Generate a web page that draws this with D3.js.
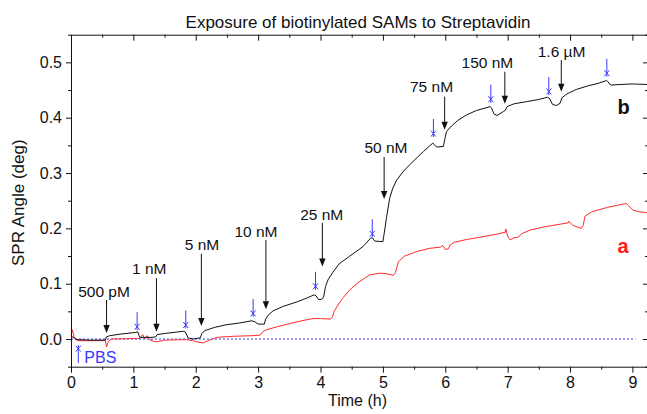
<!DOCTYPE html>
<html><head><meta charset="utf-8">
<script src="https://cdn.jsdelivr.net/npm/d3@7"></script>
<style>body{margin:0;background:#fff}text{font-family:"Liberation Sans",Arial,sans-serif}</style>
</head><body><svg id="c" width="647" height="414"></svg>
<script>
// ---- data ----
const title = "Exposure of biotinylated SAMs to Streptavidin";
const xLabel = "Time (h)";
const yLabel = "SPR Angle (deg)";
const xDomain = [0, 9.25];
const yDomain = [-0.05, 0.55];
const xMajor = [0,1,2,3,4,5,6,7,8,9];
const xMinor = [0.5,1.5,2.5,3.5,4.5,5.5,6.5,7.5,8.5];
const yMajor = [0,0.1,0.2,0.3,0.4,0.5];
const yMinor = [-0.05,0.05,0.15,0.25,0.35,0.45,0.55];

// curve b (black)
const timeB = [0,0.03,0.08,0.3,0.55,0.57,0.62,0.8,1.04,1.07,1.1,1.3,1.36,1.38,1.5,1.8,1.83,1.88,1.95,2.07,2.1,2.14,2.3,2.5,2.7,2.9,2.95,3.0,3.1,3.12,3.16,3.24,3.4,3.62,3.8,3.9,3.93,3.97,4.02,4.05,4.08,4.12,4.2,4.3,4.47,4.68,4.8,4.83,4.87,5.0,5.02,5.06,5.11,5.16,5.22,5.32,5.43,5.55,5.65,5.8,5.82,5.86,5.97,5.99,6.02,6.1,6.2,6.34,6.5,6.72,6.74,6.78,6.83,6.93,6.96,6.99,7.1,7.3,7.5,7.64,7.67,7.72,7.78,7.84,7.87,7.95,8.1,8.3,8.45,8.58,8.6,8.65,8.8,9.0,9.25];
const valB  = [0.003,0.004,-0.001,-0.002,-0.002,0.004,0.006,0.009,0.012,0.013,0.003,0.003,0.004,0.008,0.010,0.014,0.013,0.002,0.000,0.002,0.010,0.015,0.021,0.026,0.029,0.033,0.031,0.027,0.027,0.036,0.043,0.051,0.059,0.067,0.075,0.080,0.078,0.071,0.072,0.076,0.095,0.107,0.121,0.136,0.150,0.167,0.182,0.183,0.177,0.176,0.190,0.221,0.255,0.273,0.287,0.302,0.315,0.328,0.339,0.354,0.352,0.347,0.348,0.360,0.375,0.385,0.395,0.405,0.413,0.420,0.418,0.407,0.404,0.411,0.413,0.420,0.425,0.429,0.433,0.437,0.435,0.424,0.422,0.426,0.436,0.443,0.451,0.458,0.462,0.467,0.466,0.459,0.460,0.461,0.460];

// curve a (red)
const timeA = [0,0.02,0.05,0.1,0.5,0.55,0.57,0.6,0.65,1.05,1.1,1.15,1.18,1.22,1.26,1.32,1.38,1.5,1.85,1.95,2.05,2.12,2.2,2.34,2.6,2.9,3.03,3.08,3.14,3.3,3.51,3.7,3.88,4.0,4.16,4.19,4.22,4.26,4.35,4.47,4.6,4.79,4.95,5.05,5.17,5.2,5.25,5.35,5.54,5.75,5.92,5.96,6.0,6.05,6.08,6.15,6.35,6.55,6.8,6.96,6.97,7.0,7.04,7.1,7.17,7.22,7.36,7.6,7.97,7.98,8.05,8.18,8.21,8.24,8.35,8.6,8.9,9.01,9.1,9.25];
const valA  = [0.005,0.017,0.004,-0.003,-0.003,-0.002,-0.014,-0.004,0.000,0.001,0.001,0.008,0.000,0.006,-0.001,-0.004,-0.005,-0.002,-0.001,-0.003,-0.006,-0.007,-0.003,0.003,0.005,0.006,0.007,0.014,0.017,0.022,0.028,0.033,0.037,0.037,0.036,0.040,0.050,0.058,0.073,0.089,0.102,0.116,0.119,0.118,0.115,0.120,0.140,0.150,0.158,0.164,0.166,0.169,0.162,0.163,0.170,0.175,0.180,0.184,0.189,0.193,0.199,0.186,0.179,0.183,0.184,0.190,0.197,0.203,0.210,0.213,0.205,0.200,0.205,0.222,0.230,0.238,0.245,0.233,0.230,0.228];

// zero baseline (dotted)
const zeroT = [0, 9.05];

// injection annotations (black arrows)
const injLabel = ["500 pM","1 nM","5 nM","10 nM","25 nM","50 nM","75 nM","150 nM","1.6 \u00b5M"];
const injT     = [0.57,1.37,2.09,3.125,4.03,5.02,5.99,6.955,7.86];
const injTipV  = [0.011,0.013,0.0235,0.054,0.131,0.253,0.378,0.425,0.447];
const injTopV  = [0.0705,0.110,0.154,0.179,0.210,0.329,0.438,0.483,0.504];
const injLabT  = [0.53,1.255,2.10,2.965,4.02,5.05,5.78,6.675,7.865];
const injLabV  = [0.0765,0.1175,0.161,0.1845,0.215,0.336,0.447,0.4895,0.5105];

// buffer rinse markers (blue arrows)
const rinseT   = [1.06,1.84,2.92,3.92,4.83,5.81,6.73,7.66,8.59];
const rinseTipV= [0.016,0.019,0.040,0.089,0.184,0.365,0.427,0.441,0.474];
const pbsT = 0.117, pbsTipV = -0.011, pbsLabT = 0.213, pbsLabV = -0.044;

const curveLabels = ["a","b"];
const curveLabT = [8.85, 8.86];
const curveLabV = [0.155, 0.407];

// ---- drawing ----
const svg = d3.select("#c");
const L = 71, T = 34.7, R = 648, B = 366.7;
const x = d3.scaleLinear().domain(xDomain).range([L, R]);
const y = d3.scaleLinear().domain(yDomain).range([B, T]);
const BLUE = "#3a3aff";
const FS = 16;

svg.append("text").attr("x", 358).attr("y", 28).attr("text-anchor","middle")
  .attr("font-size", 17).attr("fill","#111").text(title);

// zero line
svg.append("line").attr("x1", x(zeroT[0])).attr("x2", x(zeroT[1]))
  .attr("y1", y(0)).attr("y2", y(0)).attr("stroke", BLUE).attr("stroke-width",1)
  .attr("stroke-dasharray","2,2");

// curves
const line = d3.line().x(d=>x(d[0])).y(d=>y(d[1]));
svg.append("path").datum(timeA.map((t,i)=>[t,valA[i]])).attr("d", line)
  .attr("fill","none").attr("stroke","#ff2a2a").attr("stroke-width",1);
svg.append("path").datum(timeB.map((t,i)=>[t,valB[i]])).attr("d", line)
  .attr("fill","none").attr("stroke","#111").attr("stroke-width",1);

// axes
function styleAxis(g){ g.select(".domain").attr("stroke","#111"); g.selectAll(".tick line").attr("stroke","#111");
  g.selectAll("text").attr("font-size",FS).attr("fill","#111").attr("font-family",'"Liberation Sans",Arial,sans-serif'); }
const gx = svg.append("g").attr("transform",`translate(0,${B})`)
  .call(d3.axisBottom(x).tickValues(xMajor).tickSize(6).tickSizeOuter(0).tickPadding(4).tickFormat(d3.format("d")));
styleAxis(gx);
svg.append("g").attr("transform",`translate(0,${B})`).call(d3.axisBottom(x).tickValues(xMinor).tickSize(3).tickSizeOuter(0).tickFormat(""))
  .call(g=>{g.select(".domain").remove(); g.selectAll("line").attr("stroke","#111");});
const gy = svg.append("g").attr("transform",`translate(${L},0)`)
  .call(d3.axisLeft(y).tickValues(yMajor).tickSize(5).tickSizeOuter(0).tickPadding(4).tickFormat(d3.format(".1f")));
styleAxis(gy);
svg.append("g").attr("transform",`translate(${L},0)`).call(d3.axisLeft(y).tickValues(yMinor).tickSize(3).tickSizeOuter(0).tickFormat(""))
  .call(g=>{g.select(".domain").remove(); g.selectAll("line").attr("stroke","#111");});
// top & right (inward ticks)
const gt = svg.append("g").attr("transform",`translate(0,${T})`)
  .call(d3.axisTop(x).tickValues(xMajor).tickSize(-6).tickSizeOuter(0).tickFormat(""));
styleAxis(gt);
svg.append("g").attr("transform",`translate(0,${T})`).call(d3.axisTop(x).tickValues(xMinor).tickSize(-3).tickFormat(""))
  .call(g=>{g.select(".domain").remove(); g.selectAll("line").attr("stroke","#111");});
const gr = svg.append("g").attr("transform",`translate(${R},0)`)
  .call(d3.axisRight(y).tickValues(yMajor).tickSize(-5).tickSizeOuter(0).tickFormat(""));
styleAxis(gr);
svg.append("g").attr("transform",`translate(${R},0)`).call(d3.axisRight(y).tickValues(yMinor).tickSize(-3).tickFormat(""))
  .call(g=>{g.select(".domain").remove(); g.selectAll("line").attr("stroke","#111");});

// axis titles
svg.append("text").attr("x", (L+R)/2 - 2).attr("y", 406).attr("text-anchor","middle")
  .attr("font-size",16).attr("fill","#111").text(xLabel);
svg.append("text").attr("transform",`translate(24,${(T+B)/2 + 2})rotate(-90)`).attr("text-anchor","middle")
  .attr("font-size",17).attr("fill","#111").text(yLabel);

// injection arrows
injT.forEach((t,i)=>{
  const xx = x(t), y0 = y(injTopV[i]), y1 = y(injTipV[i]);
  svg.append("line").attr("x1",xx).attr("x2",xx).attr("y1",y0).attr("y2",y1-6)
    .attr("stroke","#111").attr("stroke-width",1);
  svg.append("path").attr("d",`M${xx-3.2},${y1-8}L${xx+3.2},${y1-8}L${xx},${y1}Z`).attr("fill","#111");
  svg.append("text").attr("x", x(injLabT[i])).attr("y", y(injLabV[i])).attr("text-anchor","middle")
    .attr("font-size",15.5).attr("fill","#111").text(injLabel[i]);
});

// rinse markers
function blueArrow(xx, tip, dir){ // dir=1 down, -1 up
  const top = tip - dir*18;
  svg.append("line").attr("x1",xx).attr("x2",xx).attr("y1",top).attr("y2",tip).attr("stroke",BLUE).attr("stroke-width",1);
  const c = tip - dir*3.5;
  svg.append("path").attr("d",`M${xx-2.5},${c-3}L${xx+2.5},${c+3}M${xx+2.5},${c-3}L${xx-2.5},${c+3}`)
    .attr("stroke",BLUE).attr("stroke-width",1).attr("fill","none");
}
rinseT.forEach((t,i)=> blueArrow(x(t), y(rinseTipV[i]), 1));
blueArrow(x(pbsT), y(pbsTipV), -1);
svg.append("text").attr("x", x(pbsLabT)).attr("y", y(pbsLabV)).attr("font-size",16).attr("fill",BLUE).text("PBS");

// curve labels
svg.append("text").attr("x", x(curveLabT[0])).attr("y", y(curveLabV[0])).attr("text-anchor","middle")
  .attr("font-size",20).attr("font-weight","bold").attr("fill","#ff1a1a").text(curveLabels[0]);
svg.append("text").attr("x", x(curveLabT[1])).attr("y", y(curveLabV[1])).attr("text-anchor","middle")
  .attr("font-size",20).attr("font-weight","bold").attr("fill","#111").text(curveLabels[1]);
</script></body></html>
